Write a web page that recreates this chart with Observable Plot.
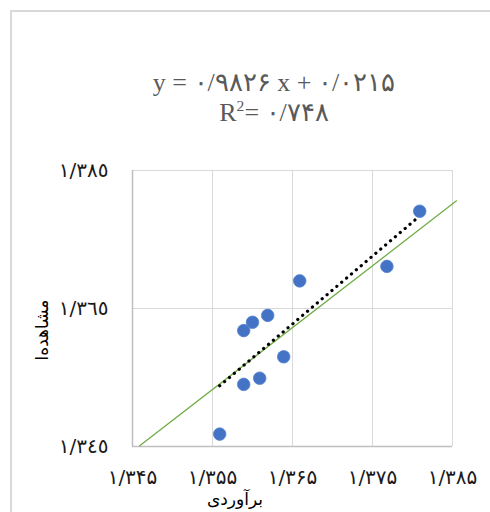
<!DOCTYPE html>
<html>
<head>
<meta charset="utf-8">
<script src="https://cdn.jsdelivr.net/npm/d3@7"></script>
<script src="https://cdn.jsdelivr.net/npm/@observablehq/plot@0.6"></script>
<style>
  html, body { margin: 0; padding: 0; background: #fff; }
  #wrap { position: relative; width: 490px; height: 512px; overflow: hidden; background: #fff; }
  #frame { position: absolute; left: 10px; top: 10px; width: 600px; height: 600px; border: 2px solid #d9d9d9; box-sizing: border-box; }
  #chart { position: absolute; left: 0; top: 0; }
  .title { position: absolute; left: 274px; transform: translateX(-50%); white-space: nowrap;
           font-family: "Liberation Serif", "Times New Roman", serif; font-size: 26px; color: #595959; line-height: 1; }
  .title sup { font-size: 0.6em; vertical-align: 0.65em; line-height: 0; }
  .axtitle { position: absolute; white-space: nowrap; font-family: "DejaVu Sans", sans-serif; font-size: 17px; color: #000; line-height: 1; }
  #chart svg g[aria-label="x-axis tick label"] text,
  #chart svg g[aria-label="y-axis tick label"] text { font-family: "DejaVu Sans ExtraLight", "DejaVu Sans", sans-serif; }
</style>
</head>
<body>
<div id="wrap">
  <div id="frame"></div>
  <div id="chart"></div>
  <div class="title" id="t1" style="top:70px"></div>
  <div class="title" id="t2" style="top:100px"></div>
  <div class="axtitle" id="xt" style="left:235px; top:491px; transform: translateX(-50%);"></div>
  <div class="axtitle" id="yt" style="left:42px; top:330px; transform: translate(-50%,-50%) rotate(-90deg);"></div>
</div>
<script>
// observed points
const estimated = [1.3809, 1.3768, 1.3659, 1.3619, 1.3600, 1.3589, 1.3639, 1.3609, 1.3589, 1.3559];
const observed  = [1.3791, 1.3711, 1.3690, 1.3640, 1.3630, 1.3618, 1.3580, 1.3549, 1.3540, 1.3468];
// dotted linear trendline (y = 0.9826x + 0.0215) end points
const trendX = [1.3559, 1.3809];
const trendY = [1.3538, 1.3784];
// green reference line end points
const refX = [1.3459, 1.3855];
const refY = [1.3451, 1.3806];
// ticks and labels
const xTicks = [1.345, 1.355, 1.365, 1.375, 1.385];
const xTickLabels = ["۱/۳۴۵", "۱/۳۵۵", "۱/۳۶۵", "۱/۳۷۵", "۱/۳۸۵"];
const yTicks = [1.345, 1.365, 1.385];
const yTickLabels = ["١/٣٤٥", "١/٣٦٥", "١/٣٨٥"];
const titleLine1 = "y = ۰/۹۸۲۶ x + ۰/۰۲۱۵";
const titleLine2 = "R<sup>2</sup>= ۰/۷۴۸";
const xTitle = "برآوردی";
const yTitle = "مشاهده\u200Cا";

document.getElementById("t1").textContent = titleLine1;
document.getElementById("t2").innerHTML = titleLine2;
document.getElementById("xt").textContent = xTitle;
document.getElementById("yt").textContent = yTitle;

const points = estimated.map((x, i) => ({x, y: observed[i]}));
const trend = trendX.map((x, i) => ({x, y: trendY[i]}));
const ref = refX.map((x, i) => ({x, y: refY[i]}));

const chart = Plot.plot({
  width: 490,
  height: 512,
  marginLeft: 132,
  marginRight: 38,
  marginTop: 170,
  marginBottom: 66,
  style: {fontFamily: "DejaVu Sans, sans-serif", fontSize: "20px", background: "transparent", color: "#000"},
  x: {domain: [1.345, 1.385], label: null},
  y: {domain: [1.345, 1.385], label: null},
  marks: [
    Plot.gridX(xTicks, {stroke: "#d9d9d9", strokeOpacity: 1, strokeWidth: 1}),
    Plot.gridY(yTicks, {stroke: "#d9d9d9", strokeOpacity: 1, strokeWidth: 1}),
    Plot.ruleX([1.345], {stroke: "#bfbfbf", strokeWidth: 1.5}),
    Plot.ruleY([1.345], {stroke: "#bfbfbf", strokeWidth: 1.5}),
    Plot.axisX(xTicks, {tickSize: 0, tickPadding: 23, tickFormat: (d, i) => xTickLabels[i], fill: "#1a1a1a", fontSize: 20, label: null}),
    Plot.axisY(yTicks, {tickSize: 0, tickPadding: 24, tickFormat: (d, i) => yTickLabels[i], fill: "#1a1a1a", fontSize: 20, label: null}),
    Plot.line(ref, {x: "x", y: "y", stroke: "#70ad47", strokeWidth: 1.3}),
    Plot.line(trend, {x: "x", y: "y", stroke: "#000", strokeWidth: 3.2, strokeDasharray: "0.1 6.3", strokeLinecap: "round"}),
    Plot.dot(points, {x: "x", y: "y", r: 6.3, fill: "#4472c4", stroke: "#5b86d2", strokeWidth: 0.8})
  ]
});
document.getElementById("chart").appendChild(chart);
</script>
</body>
</html>
